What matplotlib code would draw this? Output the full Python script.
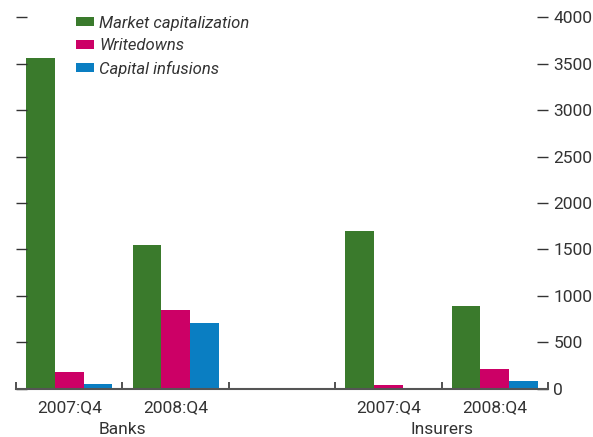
import matplotlib.pyplot as plt
import numpy as np

plt.rcParams['font.family'] = ['Roboto', 'DejaVu Sans']

periods = ["2007:Q4", "2008:Q4", "", "2007:Q4", "2008:Q4"]
groups = ["Banks", "Insurers"]
series = ["Market capitalization", "Writedowns", "Capital infusions"]
market_cap = [3560, 1550, np.nan, 1700, 895]
writedowns = [185, 850, np.nan, 45, 215]
infusions = [55, 710, np.nan, 5, 85]
colors = ["#3a7a2c", "#cc0066", "#0a7ec2"]

fig = plt.figure(figsize=(5.93, 4.37), dpi=100)
ax = fig.add_axes([0.027, 0.110, 0.897, 0.851])

x = np.arange(len(periods))
w = 0.27
for i, (vals, name) in enumerate(zip([market_cap, writedowns, infusions], series)):
    ax.bar(x + (i - 1) * w, vals, width=w, color=colors[i], label=name, linewidth=0)

ax.set_xlim(-0.5, 4.5)
ax.set_ylim(0, 4000)
ax.set_yticks(np.arange(0, 4001, 500))
ax.tick_params(axis='y', left=True, right=True, labelleft=False, labelright=True,
               direction='in', length=8, width=1, color="#333333",
               labelsize=12.5, labelcolor="#333333", pad=4)

# category boundaries as small upward ticks, labels on minor ticks
ax.set_xticks(np.arange(-0.5, 5, 1))
ax.set_xticklabels([])
ax.tick_params(axis='x', which='major', direction='in', length=5, width=1.2, color="#333333")
ax.set_xticks([0, 1, 3, 4], minor=True)
ax.set_xticklabels([periods[i] for i in [0, 1, 3, 4]], minor=True)
ax.tick_params(axis='x', which='minor', length=0, labelsize=12.5, labelcolor="#333333", pad=8)

ax.text(0.5, -0.108, groups[0], transform=ax.get_xaxis_transform(), ha='center', va='center',
        fontsize=12.5, color="#333333")
ax.text(3.5, -0.108, groups[1], transform=ax.get_xaxis_transform(), ha='center', va='center',
        fontsize=12.5, color="#333333")

for s in ['left', 'right', 'top']:
    ax.spines[s].set_visible(False)
ax.spines['bottom'].set_color("#555555")
ax.spines['bottom'].set_linewidth(1.5)

leg = ax.legend(loc='upper left', bbox_to_anchor=(0.1, 1.021), frameon=False,
                prop={'style': 'italic', 'size': 12}, handlelength=1.1, handleheight=0.45,
                handletextpad=0.3, labelspacing=0.45, borderaxespad=0)
for t in leg.get_texts():
    t.set_color("#333333")

fig.savefig("out.png", dpi=100)
